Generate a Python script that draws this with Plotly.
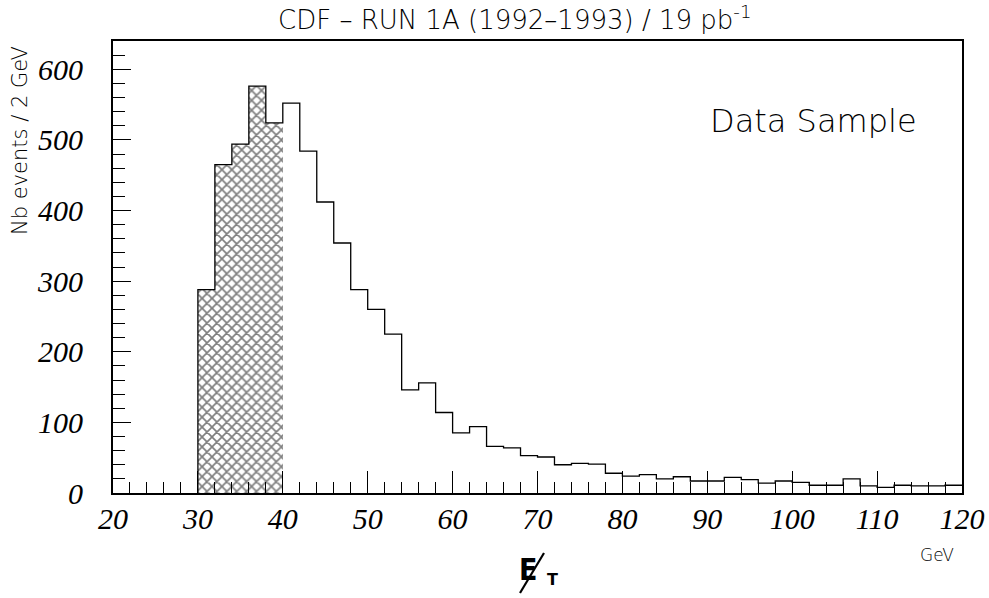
import plotly.graph_objects as go

# ---- data ----
bin_low = [30, 32, 34, 36, 38, 40, 42, 44, 46, 48,
           50, 52, 54, 56, 58, 60, 62, 64, 66, 68,
           70, 72, 74, 76, 78, 80, 82, 84, 86, 88,
           90, 92, 94, 96, 98, 100, 102, 104, 106, 108,
           110, 112, 114, 116, 118]
counts = [288, 465, 494, 576, 524, 552, 484, 412, 354, 288,
          260, 225, 146, 156, 114, 85, 94, 66, 64, 53,
          51, 40, 42, 41, 28, 24, 26, 20, 23, 17,
          17, 22, 19, 14, 17, 15, 11, 11, 20, 10,
          8, 11, 10, 10, 11]
bin_width = 2
hatched_upto = 40
x_tick_vals = [20, 30, 40, 50, 60, 70, 80, 90, 100, 110, 120]
y_tick_vals = [0, 100, 200, 300, 400, 500, 600]

W, H = 989, 598
L, R, T, B = 113, 27, 41, 105
PW, PH = W - L - R, H - T - B


def px(xp):
    return (xp - L) / PW


def py(yp):
    return (H - B - yp) / PH


fig = go.Figure()

# hatched part (bins below 40 GeV)
hx = [b + bin_width / 2 for b in bin_low if b < hatched_upto]
hy = [c for b, c in zip(bin_low, counts) if b < hatched_upto]
fig.add_trace(go.Bar(
    x=hx, y=hy, width=bin_width,
    marker=dict(color="white", line=dict(width=0),
                pattern=dict(shape="x", fgcolor="black", bgcolor="white",
                             size=7, solidity=0.42)),
    showlegend=False, hoverinfo="skip"))

# histogram outline
lx = [bin_low[0]] + bin_low + [bin_low[-1] + bin_width]
ly = [0] + counts + [counts[-1]]
fig.add_trace(go.Scatter(
    x=lx, y=ly, mode="lines", line=dict(color="black", width=1.3, shape="hv"),
    showlegend=False, hoverinfo="skip"))

tickfont = dict(family="Liberation Serif, Times New Roman, serif",
                size=30, color="black", style="italic")
sans = "DejaVu Sans, sans-serif"

fig.update_layout(
    width=W, height=H,
    margin=dict(l=L, r=R, t=T, b=B, pad=0, autoexpand=False),
    paper_bgcolor="white", plot_bgcolor="white",
    bargap=0,
    xaxis=dict(range=[20, 120], tickvals=x_tick_vals,
               ticktext=[f"<i>{v}</i>" for v in x_tick_vals],
               ticks="inside", ticklen=22, automargin=False,
               tickwidth=1.2, tickcolor="black", showgrid=False, zeroline=False,
               showline=True, linecolor="black", linewidth=1.8, mirror=True,
               tickfont=tickfont, ticklabelstandoff=-2,
               minor=dict(dtick=2, tick0=20, ticks="inside", ticklen=11,
                          tickwidth=1.2, tickcolor="black", showgrid=False)),
    yaxis=dict(range=[0, 640], tickvals=y_tick_vals,
               ticktext=[f"<i>{v}</i>" for v in y_tick_vals],
               ticks="inside", ticklen=18, automargin=False,
               tickwidth=1.2, tickcolor="black", showgrid=False, zeroline=False,
               showline=True, linecolor="black", linewidth=1.8, mirror=True,
               tickfont=tickfont, ticklabelstandoff=22,
               minor=dict(dtick=20, tick0=0, ticks="inside", ticklen=12,
                          tickwidth=1.2, tickcolor="black", showgrid=False)),
)

ann = [
    dict(text="CDF – RUN 1A (1992–1993) / 19 pb<sup>-1</sup>", x=px(514), y=py(18),
         font=dict(family=sans, size=26, color="black", weight=300)),
    dict(text="Nb events / 2 GeV", x=px(20), y=py(141), textangle=-90,
         font=dict(family=sans, size=21, color="black", weight=300)),
    dict(text="Data Sample", x=px(813), y=py(121),
         font=dict(family=sans, size=32, color="black", weight=200)),
    dict(text="GeV", x=px(937), y=py(555),
         font=dict(family=sans, size=17, color="black", weight=300)),
    dict(text="<b>E</b>", x=px(528), y=py(569),
         font=dict(family="Liberation Sans Narrow, DejaVu Sans Condensed, sans-serif",
                   size=30, color="black")),
    dict(text="<b>T</b>", x=px(552), y=py(579),
         font=dict(family="DejaVu Sans, sans-serif", size=16, color="black")),
]
for a in ann:
    a.update(xref="paper", yref="paper", showarrow=False,
             xanchor="center", yanchor="middle")
fig.update_layout(annotations=ann)

# slash of the missing-E_T symbol
fig.add_shape(type="line", xref="paper", yref="paper",
              x0=px(520), y0=py(593), x1=px(544), y1=py(553),
              line=dict(color="black", width=2.2))

fig.write_html("out.html")
